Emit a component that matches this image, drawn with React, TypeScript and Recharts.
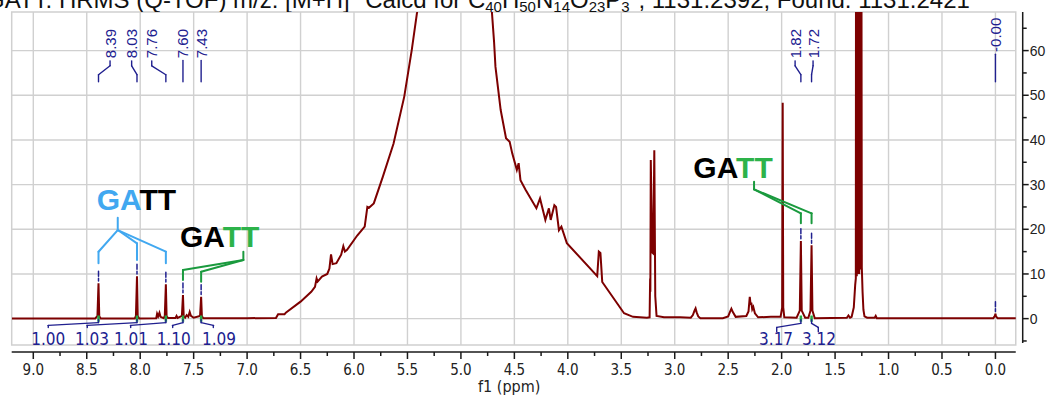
import { LineChart, Line, XAxis, YAxis, ReferenceLine, ReferenceArea, ReferenceDot } from "recharts";

// 1H NMR trace as [ppm, intensity], from low field to high field
const aromaticRegion: [number, number][] = [
  [9.2, 0.05], [8.42, 0.05], [8.4, 0.6], [8.39, 7.9], [8.383, 0.5], [8.37, 0.05],
  [8.05, 0.05], [8.04, 0.6], [8.03, 9.5], [8.023, 0.5], [8.01, 0.05],
  [7.85, 0.1], [7.842, 1.1], [7.832, 0.5], [7.82, 1.3], [7.81, 0.4], [7.78, 0.1],
  [7.77, 0.6], [7.76, 7.7], [7.753, 0.5], [7.74, 0.15], [7.67, 0.15], [7.66, 0.6], [7.65, 0.15],
  [7.61, 0.6], [7.6, 5.3], [7.593, 0.5], [7.58, 0.2], [7.565, 0.8], [7.55, 0.4], [7.537, 1.5],
  [7.525, 0.6], [7.5, 0.2], [7.44, 0.6], [7.43, 4.9], [7.423, 0.5], [7.41, 0.1], [7.0, 0.1],
];

const waterRegion: [number, number][] = [
  [6.73, 0.15], [6.71, 1.0], [6.65, 1.0], [6.635, 1.4], [6.5, 3.8], [6.4, 6.0], [6.365, 7.1],
  [6.35, 9.0], [6.34, 8.3], [6.3, 9.4], [6.25, 10.0], [6.23, 11.2], [6.215, 14.4], [6.2, 12.2],
  [6.165, 12.4], [6.12, 14.3], [6.1, 16.2], [6.085, 15.0], [6.065, 15.4], [5.97, 18.6],
  [5.9, 20.6], [5.875, 25.0], [5.86, 24.8], [5.815, 25.8], [5.73, 31.8], [5.63, 39.2],
  [5.53, 49.7], [5.46, 60.1], [5.41, 68.6], [5.36, 85], [5.25, 120], [5.05, 170], [4.85, 150],
  [4.76, 95], [4.71, 68.6], [4.69, 62.0], [4.677, 56.4], [4.628, 46.7], [4.578, 40.4],
  [4.544, 39.6], [4.52, 37.0], [4.477, 33.3], [4.46, 34.8], [4.443, 31.0], [4.394, 28.8],
  [4.294, 24.7], [4.26, 26.9], [4.21, 22.1], [4.177, 24.7], [4.16, 22.1], [4.126, 25.4],
  [4.11, 25.0], [4.083, 19.8], [4.06, 20.6], [4.009, 16.9], [3.725, 9.5], [3.71, 15.0],
  [3.695, 14.7], [3.678, 8.2], [3.474, 1.2], [3.39, 0.4], [3.26, 0.2],
];

const aliphaticRegion: [number, number][] = [
  [3.235, 0.3], [3.23, 9.0], [3.228, 6.0], [3.224, 35.5], [3.21, 14.8], [3.201, 14.6],
  [3.191, 37.7], [3.182, 5.0], [3.17, 0.6], [3.1, 0.3], [2.95, 0.3], [2.85, 0.2],
  [2.83, 0.8], [2.815, 1.8], [2.805, 2.3], [2.795, 1.4], [2.78, 0.5], [2.76, 0.1],
  [2.55, 0.1], [2.5, 0.5], [2.485, 1.4], [2.47, 2.2], [2.455, 1.4], [2.43, 0.4],
  [2.33, 0.6], [2.31, 1.6], [2.298, 4.9], [2.29, 3.1], [2.284, 3.6], [2.275, 2.1],
  [2.265, 2.6], [2.25, 1.2], [2.22, 0.3], [2.1, 0.4], [2.01, 0.4], [1.995, 2.5],
  [1.99, 48.3], [1.985, 2.5], [1.975, 0.3], [1.86, 0.2], [1.83, 1.8], [1.82, 17.4],
  [1.812, 1.8], [1.78, 0.2], [1.75, 0.2], [1.73, 1.8], [1.72, 16.4], [1.712, 1.8],
  [1.69, 0.1], [1.39, 0.2], [1.375, 0.7], [1.36, 0.2], [1.345, 0.4], [1.325, 2.5],
  [1.312, 7.5], [1.306, 9.0], [1.303, 140], [1.297, 9.5], [1.292, 140], [1.286, 10],
  [1.28, 140], [1.274, 10], [1.268, 140], [1.262, 11], [1.256, 140], [1.25, 11.5],
  [1.243, 6], [1.235, 2], [1.225, 0.5], [1.2, 0.2], [1.13, 0.2], [1.12, 0.6], [1.11, 0.1],
  [0.02, 0.1], [0.005, 0.6], [0.0, 1.1], [-0.005, 0.5], [-0.02, 0.1], [-0.19, 0.1],
];

const xTicks = [
  0, 0.25, 0.5, 0.75, 1, 1.25, 1.5, 1.75, 2, 2.25, 2.5, 2.75, 3, 3.25, 3.5, 3.75, 4, 4.25, 4.5,
  4.75, 5, 5.25, 5.5, 5.75, 6, 6.25, 6.5, 6.75, 7, 7.25, 7.5, 7.75, 8, 8.25, 8.5, 8.75, 9,
];
const yTicks = [-5, 0, 5, 10, 15, 20, 25, 30, 35, 40, 45, 50, 55, 60, 65];
const gridPpm = [0, 0.5, 1, 1.5, 2, 2.5, 3, 3.5, 4, 4.5, 5, 5.5, 6, 6.5, 7, 7.5, 8, 8.5, 9];
const gridIntensity = [0, 10, 20, 30, 40, 50, 60];

// peak picks: shift printed above, textAt = where the label sits
const peakLabels = [
  { ppm: 8.39, text: "8.39", textAt: 8.282 },
  { ppm: 8.03, text: "8.03", textAt: 8.08 },
  { ppm: 7.76, text: "7.76", textAt: 7.892 },
  { ppm: 7.6, text: "7.60", textAt: 7.6 },
  { ppm: 7.43, text: "7.43", textAt: 7.43 },
  { ppm: 1.82, text: "1.82", textAt: 1.874 },
  { ppm: 1.72, text: "1.72", textAt: 1.706 },
  { ppm: 0, text: "-0.00", textAt: 0 },
];

// integrals under the peaks
const integrals = [
  { ppm: 8.39, value: "1.00", labelAt: 8.86, stemAt: 8.86 },
  { ppm: 8.03, value: "1.03", labelAt: 8.451, stemAt: 8.495 },
  { ppm: 7.76, value: "1.01", labelAt: 8.086, stemAt: 8.089 },
  { ppm: 7.6, value: "1.10", labelAt: 7.687, stemAt: 7.696 },
  { ppm: 7.43, value: "1.09", labelAt: 7.263, stemAt: 7.316 },
  { ppm: 1.82, value: "3.17", labelAt: 2.052, stemAt: 2.046 },
  { ppm: 1.72, value: "3.12", labelAt: 1.65, stemAt: 1.657 },
];

const NAVY = "#20208f";
const MAROON = "#7d0000";
const SKY = "#41a8f0";
const GREEN_TEXT = "#2db34a";
const GREEN_LINE = "#1a9a3e";
const GRID = "#d0d0d0";

// base assignment callouts (text anchor, stem, branches down to the peaks)
const motifs = [
  {
    at: [8.407, 24.31], parts: [["GA", SKY], ["TT", "#000"]], color: SKY,
    stem: [8.21, 22.59, 19.83],
    branches: [[8.39, 14.98, 12.38], [8.03, 16.86, 13.12], [7.76, 14.98, 12.38]],
  },
  {
    at: [7.628, 16.1], parts: [["GA", "#000"], ["TT", GREEN_TEXT]], color: GREEN_LINE,
    stem: [7.035, 14.98, 13.12],
    branches: [[7.6, 10.88, 8.64], [7.43, 10.5, 8.26]],
  },
  {
    at: [2.826, 31.41], parts: [["GA", "#000"], ["TT", GREEN_TEXT]], color: GREEN_LINE,
    stem: [2.258, 30.65, 28.95],
    branches: [[1.82, 23.57, 21.33], [1.72, 23.57, 21.33]],
  },
];

const spectrum = [...aromaticRegion, ...waterRegion, ...aliphaticRegion].map(([ppm, intensity]) => ({
  ppm,
  intensity,
}));

const heightAt = (ppm: number) => spectrum.find((p) => p.ppm === ppm)?.intensity ?? 0;

const X_DOMAIN: [number, number] = [-0.255, 9.202];
const Y_DOMAIN: [number, number] = [-7.47, 68.64];
const FRAME_RIGHT = -0.19;
const FRAME_BOTTOM = -5.91;

function polyline(key: string, pts: number[][], stroke: string, width = 1.5, dash?: string) {
  return pts.slice(1).map((p, i) => (
    <ReferenceLine
      key={`${key}-${i}`}
      segment={[{ x: pts[i][0], y: pts[i][1] }, { x: p[0], y: p[1] }]}
      stroke={stroke}
      strokeWidth={width}
      strokeDasharray={dash}
      strokeLinecap="round"
      ifOverflow="visible"
    />
  ));
}

function PpmTick({ x, y, payload }: any) {
  const v = payload.value;
  const major = Math.abs(v * 2 - Math.round(v * 2)) < 1e-6;
  return (
    <g>
      <line x1={x} y1={y} x2={x} y2={y + (major ? 7 : 4)} stroke="#1a1a1a" strokeWidth={1.5} />
      {major && (
        <text x={x} y={y + 23} textAnchor="middle" fontSize={15}
          fontFamily="'DejaVu Sans Condensed', sans-serif" fill="#222">
          {v.toFixed(1)}
        </text>
      )}
    </g>
  );
}

function IntensityTick({ x, y, payload }: any) {
  const v = payload.value;
  const major = v % 10 === 0;
  return (
    <g>
      <line x1={x} y1={y} x2={x + (major ? 6 : 4)} y2={y} stroke="#1a1a1a" strokeWidth={1.5} />
      {major && (
        <text x={x + 7} y={y + 5} fontSize={14} fontFamily="'Liberation Sans', Arial, sans-serif" fill="#222">
          {v}
        </text>
      )}
    </g>
  );
}

export default function App() {
  return (
    <div style={{ position: "relative", width: 1052, height: 395, overflow: "hidden", background: "#fff" }}>
      <style>{"body{margin:0}"}</style>
      <LineChart width={1052} height={395} data={spectrum} margin={{ top: 12, right: 0, bottom: 0, left: 11.7 }}>
        <XAxis
          type="number"
          dataKey="ppm"
          domain={X_DOMAIN}
          reversed
          allowDataOverflow
          ticks={xTicks}
          interval={0}
          height={43}
          axisLine={false}
          tickLine={false}
          tickSize={0}
          tickMargin={0}
          tick={PpmTick}
          label={{
            content: ({ viewBox }: any) => (
              <text x={viewBox.x + viewBox.width / 2 - 8} y={viewBox.y + 40} textAnchor="middle"
                fontSize={16} fontFamily="'DejaVu Sans Condensed', sans-serif" fill="#222">
                f1 (ppm)
              </text>
            ),
          }}
        />
        <YAxis
          type="number"
          orientation="right"
          domain={Y_DOMAIN}
          allowDataOverflow
          ticks={yTicks}
          interval={0}
          width={29.3}
          axisLine={false}
          tickLine={false}
          tickSize={0}
          tickMargin={0}
          tick={IntensityTick}
        />

        {gridPpm.map((g) => (
          <ReferenceLine key={`gx-${g}`} segment={[{ x: g, y: FRAME_BOTTOM }, { x: g, y: Y_DOMAIN[1] }]}
            stroke={GRID} strokeWidth={1.4} ifOverflow="visible" />
        ))}
        {gridIntensity.map((g) => (
          <ReferenceLine key={`gy-${g}`} segment={[{ x: X_DOMAIN[1], y: g }, { x: FRAME_RIGHT, y: g }]}
            stroke={GRID} strokeWidth={1.4} ifOverflow="visible" />
        ))}
        <ReferenceArea x1={X_DOMAIN[1]} x2={FRAME_RIGHT} y1={FRAME_BOTTOM} y2={Y_DOMAIN[1]}
          fill="none" fillOpacity={0} stroke={GRID} strokeWidth={1.5} ifOverflow="visible" />

        {/* axis lines, offset from the frame */}
        <ReferenceLine segment={[{ x: X_DOMAIN[1], y: Y_DOMAIN[0] }, { x: FRAME_RIGHT, y: Y_DOMAIN[0] }]}
          stroke="#1a1a1a" strokeWidth={1.5} ifOverflow="visible" />
        <ReferenceLine segment={[{ x: X_DOMAIN[0], y: -5.46 }, { x: X_DOMAIN[0], y: Y_DOMAIN[1] }]}
          stroke="#1a1a1a" strokeWidth={1.5} ifOverflow="visible" />

        <Line type="linear" dataKey="intensity" stroke={MAROON} strokeWidth={2} dot={false}
          activeDot={false} isAnimationActive={false} />

        {/* integral steps */}
        {integrals.map((it) => (
          <ReferenceLine key={`is-${it.value}`} segment={[{ x: it.ppm, y: -0.7 }, { x: it.ppm, y: 0.7 }]}
            stroke="#22aa44" strokeWidth={2.5} ifOverflow="visible" />
        ))}
        {integrals.map((it) =>
          polyline(`ic-${it.value}`, [
            [it.stemAt, it.ppm < 3 ? -2.93 : -2.0],
            [it.stemAt, it.ppm < 3 ? -1.95 : -1.5],
            [it.ppm, it.ppm < 3 ? -1.05 : -0.9],
            [it.ppm, -0.25],
          ], NAVY, 1.4)
        )}
        {integrals.map((it) => (
          <ReferenceDot key={`il-${it.value}`} x={it.labelAt} y={-5.8} r={0} ifOverflow="visible"
            shape={(p: any) => (
              <text x={p.cx} y={p.cy} textAnchor="middle" fontSize={17}
                fontFamily="'DejaVu Sans Condensed', sans-serif" fill={NAVY}>
                {it.value}
              </text>
            )}
          />
        ))}

        {/* peak picks */}
        {peakLabels.map((pk) => {
          const base = pk.text === "-0.00" ? 59.7 : 58.3;
          const pts = pk.textAt === pk.ppm
            ? [[pk.ppm, base - 0.5], [pk.ppm, 53.0]]
            : [[pk.textAt, base - 0.6], [pk.textAt, 56.6], [pk.ppm, 54.6], [pk.ppm, 53.0]];
          return polyline(`pc-${pk.text}`, pts, NAVY, 1.4);
        })}
        {peakLabels.map((pk) => {
          const base = pk.text === "-0.00" ? 59.7 : 58.3;
          return (
            <ReferenceDot key={`pl-${pk.text}`} x={pk.textAt} y={base} r={0} ifOverflow="visible"
              shape={(p: any) => (
                <text x={p.cx + 5.5} y={p.cy} transform={`rotate(-90 ${p.cx + 5.5} ${p.cy})`}
                  fontSize={15} fontFamily="'Liberation Sans', Arial, sans-serif" fill={NAVY}>
                  {pk.text}
                </text>
              )}
            />
          );
        })}
        {peakLabels.map((pk) => {
          const h = heightAt(pk.ppm);
          return polyline(`pm-${pk.text}`, [[pk.ppm, h + 2.7], [pk.ppm, h + 0.5]], NAVY, 1.5, "5 2");
        })}

        {/* base assignment callouts */}
        {motifs.map((m, mi) => [
          ...polyline(`ms-${mi}`, [[m.stem[0], m.stem[1]], [m.stem[0], m.stem[2]]], m.color, 2),
          ...m.branches.flatMap((b, bi) =>
            polyline(`mb-${mi}-${bi}`, [[m.stem[0], m.stem[2]], [b[0], b[1]], [b[0], b[2]]], m.color, 2)
          ),
          <ReferenceDot key={`mt-${mi}`} x={m.at[0] as number} y={m.at[1] as number} r={0} ifOverflow="visible"
            shape={(p: any) => (
              <text x={p.cx} y={p.cy} fontSize={30} fontWeight="bold"
                fontFamily="'Liberation Sans', Arial, sans-serif">
                {m.parts.map(([t, c]) => (
                  <tspan key={t} fill={c}>{t}</tspan>
                ))}
              </text>
            )}
          />,
        ])}
      </LineChart>

      <svg width={1052} height={12} style={{ position: "absolute", left: 0, top: 0 }}>
        <text x={-14} y={8} fontSize={24} fontFamily="'Liberation Sans', Arial, sans-serif" fill="#111">
          GATT: HRMS (Q-TOF) m/z: [M+H]<tspan dy={-7} fontSize={15}>+</tspan>
          <tspan dy={7}> Calcd for C</tspan>
          <tspan dy={4} fontSize={15}>40</tspan><tspan dy={-4}>H</tspan>
          <tspan dy={4} fontSize={15}>50</tspan><tspan dy={-4}>N</tspan>
          <tspan dy={4} fontSize={15}>14</tspan><tspan dy={-4}>O</tspan>
          <tspan dy={4} fontSize={15}>23</tspan><tspan dy={-4}>P</tspan>
          <tspan dy={4} fontSize={15}>3</tspan><tspan dy={-11} fontSize={15}>+</tspan>
          <tspan dy={7}>, 1131.2392, Found: 1131.2421</tspan>
        </text>
      </svg>
    </div>
  );
}
